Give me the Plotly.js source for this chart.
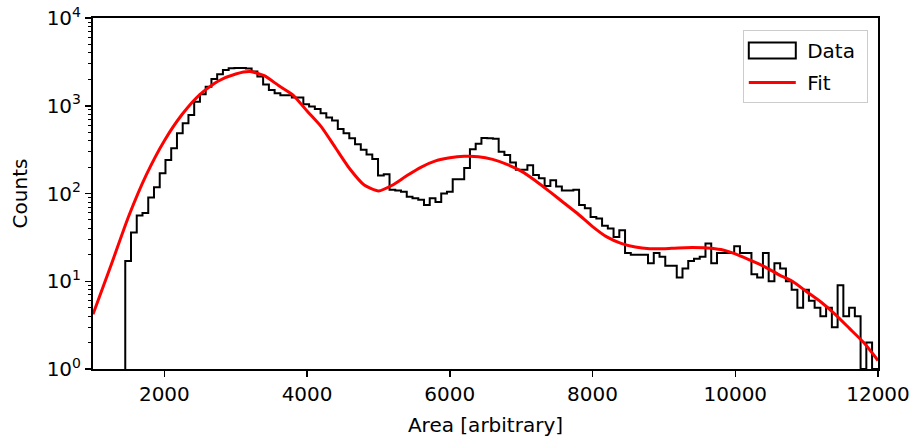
<!DOCTYPE html>
<html>
<head>
<meta charset="utf-8">
<script src="https://cdn.plot.ly/plotly-3.0.1.min.js"></script>
<style>
  html, body { margin: 0; padding: 0; background: #ffffff; }
  #chart { width: 917px; height: 442px; }
</style>
</head>
<body>
<div id="chart"></div>
<script>
// Histogram: first bin edge, bin width, and counts per bin
const histStart = 1452;
const binWidth = 80.5;
const counts = [
  17, 36, 56, 60, 90, 118, 170, 241, 327, 485,
  630, 785, 1112, 1350, 1650, 2018, 2280, 2550, 2670, 2700,
  2700, 2650, 2450, 2150, 1750, 1510, 1390, 1320, 1320, 1240,
  1240, 1040, 980, 920, 820, 735, 680, 545, 485, 425,
  365, 315, 278, 247, 160, 166, 110, 108, 105, 92,
  88, 85, 74, 88, 80, 100, 105, 145, 145, 195,
  320, 370, 430, 425, 420, 300, 275, 225, 186, 186,
  210, 162, 149, 122, 142, 120, 108, 108, 110, 74,
  68, 54, 52, 43, 40, 32, 38, 21, 20, 20,
  20, 16, 21, 19, 15, 15, 11, 14, 17, 18,
  19, 27, 16, 21, 21, 21, 25, 21, 21, 12,
  11, 21, 10, 16, 14, 10, 8, 5, 8, 6,
  5, 4, 5, 3, 9, 4, 5, 4, 1, 2,
  1
];

// Fit curve
const fitX = [1000, 1250, 1500, 1750, 2000, 2250, 2500, 2750, 3000, 3200,
  3400, 3600, 3800, 4000, 4200, 4400, 4600, 4800, 5000, 5200,
  5400, 5600, 5800, 6000, 6200, 6400, 6600, 6800, 7000, 7200,
  7400, 7600, 7800, 8000, 8200, 8400, 8600, 8800, 9000, 9200,
  9400, 9600, 9800, 10000, 10200, 10400, 10600, 10800, 11000, 11200,
  11400, 11600, 11800, 12000];
const fitY = [4.2, 15, 55, 165, 400, 800, 1350, 1900, 2300, 2450,
  2200, 1700, 1330, 870, 575, 330, 190, 125, 107, 125,
  160, 200, 235, 255, 265, 263, 245, 215, 180, 140,
  105, 78, 58, 42, 32, 27, 24.5, 23.5, 23.5, 24,
  24.2, 24, 23, 20.5, 17.5, 14.8, 12, 10, 7.6, 5.8,
  4.2, 2.9, 2.0, 1.25];

const xTicks = [2000, 4000, 6000, 8000, 10000, 12000];
const xTickText = ['2000', '4000', '6000', '8000', '10000', '12000'];
const yTickVals = [1, 10, 100, 1000, 10000];
const yTickText = ['10<sup>0</sup>', '10<sup>1</sup>', '10<sup>2</sup>', '10<sup>3</sup>', '10<sup>4</sup>'];
const yMinorVals = [];
[1, 10, 100, 1000].forEach(d => { for (let k = 2; k <= 9; k++) yMinorVals.push(d * k); });

// Build step outline from the histogram arrays
const floorVal = 0.5;
const stepX = [histStart];
const stepY = [floorVal];
counts.forEach((c, i) => { stepX.push(histStart + i * binWidth); stepY.push(c); });
stepX.push(histStart + counts.length * binWidth);
stepY.push(floorVal);

const font = "'DejaVu Sans', 'Liberation Sans', sans-serif";
const legendItemWidth = 47;

const traces = [
  {
    type: 'scatter', mode: 'lines', x: stepX, y: stepY,
    line: { shape: 'hv', color: 'black', width: 2 },
    showlegend: false, hoverinfo: 'skip'
  },
  {
    type: 'bar', x: [null], y: [null], name: '\u00a0Data\u00a0',
    marker: { color: 'rgba(255,255,255,0)', line: { color: 'black', width: 2 } },
    legendgroup: 'a', showlegend: true
  },
  {
    type: 'scatter', mode: 'lines', x: fitX, y: fitY, name: '\u00a0Fit',
    line: { color: '#ff0000', width: 3, shape: 'spline', smoothing: 0.6 },
    legendgroup: 'b'
  }
];

const layout = {
  width: 917, height: 442,
  margin: { l: 93, r: 39, t: 18, b: 73 },
  paper_bgcolor: 'white', plot_bgcolor: 'white',
  font: { family: font, size: 20, color: 'black' },
  showlegend: true,
  xaxis: {
    range: [1000, 12000],
    tickvals: xTicks, ticktext: xTickText,
    ticks: 'outside', ticklen: 6, tickwidth: 1.5, tickcolor: 'black',
    showline: true, linecolor: 'black', linewidth: 2, mirror: true,
    showgrid: false, zeroline: false,
    tickfont: { family: font, size: 20 },
    title: { text: 'Area [arbitrary]', font: { family: font, size: 20 }, standoff: 13 }
  },
  yaxis: {
    type: 'log', range: [0, 4],
    tickvals: yTickVals, ticktext: yTickText,
    ticks: 'outside', ticklen: 6, tickwidth: 1.5, tickcolor: 'black',
    minor: { tickvals: yMinorVals, ticks: 'outside', ticklen: 3.5, tickwidth: 1, tickcolor: 'black', showgrid: false },
    showline: true, linecolor: 'black', linewidth: 2, mirror: true,
    showgrid: false, zeroline: false,
    tickfont: { family: font, size: 20 },
    title: { text: 'Counts', font: { family: font, size: 20 }, standoff: 14 }
  },
  legend: {
    x: 0.987, y: 0.966, xanchor: 'right', yanchor: 'top',
    bordercolor: '#cccccc', borderwidth: 1, bgcolor: 'rgba(255,255,255,0.8)',
    font: { family: font, size: 20 },
    traceorder: 'grouped', tracegroupgap: 3, itemwidth: legendItemWidth
  },
  bargap: 0
};

Plotly.newPlot('chart', traces, layout, { displayModeBar: false, staticPlot: true }).then(gd => {
  // Widen the "Data" legend patch to a rectangle matching the line symbol length
  const linePath = gd.querySelector('.legend .traces .legendlines path');
  const barPath = gd.querySelector('.legend .traces .legendpoints path');
  if (linePath && barPath) {
    const lr = linePath.getBoundingClientRect();
    const br = barPath.getBoundingClientRect();
    const dx = (lr.left + lr.right) / 2 - (br.left + br.right) / 2;
    const hw = lr.width / 2;
    barPath.setAttribute('d', `M${dx + hw},8H${dx - hw}V-8H${dx + hw}Z`);
  }
});
</script>
</body>
</html>
